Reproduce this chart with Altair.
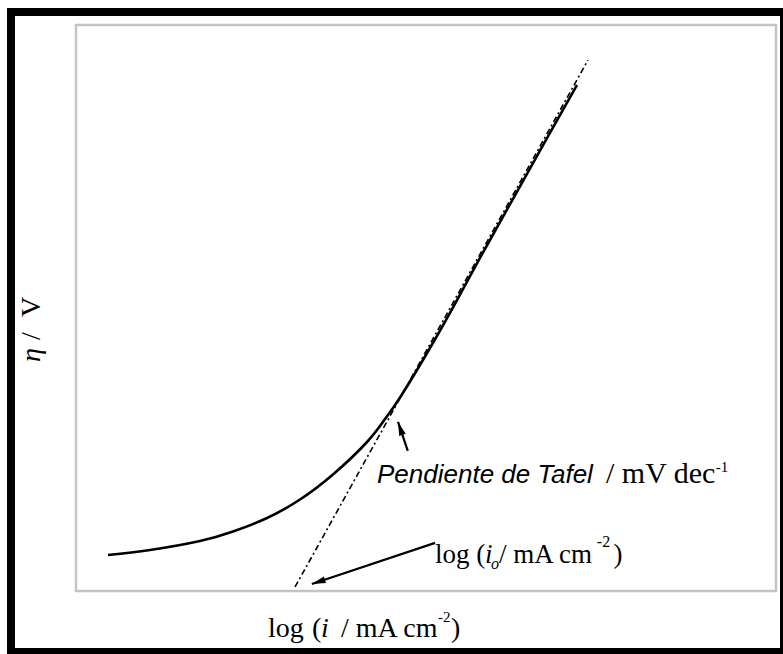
import altair as alt
import pandas as pd

# ---- data (arbitrary units: log i on x, eta on y) ----
curve_x = [0.457, 1.057, 1.771, 2.243, 2.729, 3.200, 3.671, 4.157, 4.414, 4.629,
           5.057, 5.443, 5.771, 6.229, 6.700, 7.157]
curve_y = [0.509, 0.580, 0.707, 0.841, 1.032, 1.293, 1.647, 2.106, 2.430, 2.735,
           3.435, 4.113, 4.707, 5.519, 6.353, 7.152]

tafel_x = [3.129, 7.314]
tafel_y = [0.057, 7.505]

# arrows: tail -> tip
arrow_tail_x = [4.74, 5.13]
arrow_tail_y = [1.98, 0.68]
arrow_tip_x = [4.60, 3.37]
arrow_tip_y = [2.39, 0.10]

X_DOMAIN = [0, 10]
Y_DOMAIN = [0, 8]

xs = alt.Scale(domain=X_DOMAIN, nice=False, zero=False)
ys = alt.Scale(domain=Y_DOMAIN, nice=False, zero=False)

SERIF = "Liberation Serif"
SANS = "Liberation Sans"


def enc(chart, xcol="x", ycol="y", **kw):
    return chart.encode(
        x=alt.X(f"{xcol}:Q", scale=xs, axis=None),
        y=alt.Y(f"{ycol}:Q", scale=ys, axis=None),
        **kw,
    )


curve_df = pd.DataFrame({"x": curve_x, "y": curve_y, "o": list(range(len(curve_x)))})
curve = enc(
    alt.Chart(curve_df).mark_line(color="black", strokeWidth=2.6, interpolate="natural"),
    order="o:Q",
)

tafel_df = pd.DataFrame({"x": tafel_x, "y": tafel_y})
tafel = enc(
    alt.Chart(tafel_df).mark_line(color="black", strokeWidth=1.6, strokeDash=[6, 3, 2, 3])
)

arrows_df = pd.DataFrame({
    "x": arrow_tail_x, "y": arrow_tail_y, "x2": arrow_tip_x, "y2": arrow_tip_y,
})
shafts = alt.Chart(arrows_df).mark_rule(color="black", strokeWidth=2.2).encode(
    x=alt.X("x:Q", scale=xs, axis=None),
    y=alt.Y("y:Q", scale=ys, axis=None),
    x2="x2:Q",
    y2="y2:Q",
)

HEAD = "M0,0L-0.6,2.4L0.6,2.4Z"


def head(i, angle):
    df = pd.DataFrame({"x": [arrow_tip_x[i]], "y": [arrow_tip_y[i]]})
    return enc(
        alt.Chart(df).mark_point(shape=HEAD, filled=True, color="black", opacity=1,
                                 size=130, angle=angle, strokeWidth=0)
    )


def txt(text, x, y, size, font=SERIF, style="normal", angle=0):
    df = pd.DataFrame({"x": [x], "y": [y], "t": [text]})
    kw = dict(font=font, fontSize=size, fontStyle=style, align="left",
              baseline="alphabetic", color="black")
    if angle:
        kw["angle"] = angle
    return enc(alt.Chart(df).mark_text(**kw), text="t:N")


labels = [
    # x-axis title
    txt("log", 2.743, -0.650, 28),
    txt("(", 3.37, -0.650, 28),
    txt("i", 3.50, -0.650, 28, style="italic"),
    txt("/ mA cm", 3.786, -0.650, 28),
    txt("-2", 5.171, -0.438, 15),
    txt(")", 5.357, -0.650, 28),
    # y-axis title
    txt("η", -0.514, 3.237, 28, style="italic", angle=270),
    txt("/", -0.514, 3.548, 28, angle=270),
    txt("V", -0.514, 3.873, 28, angle=270),
    # exchange current label
    txt("log (", 5.129, 0.396, 27),
    txt("i", 5.843, 0.396, 27, style="italic"),
    txt("o", 5.929, 0.311, 16, style="italic"),
    txt("/ mA cm", 6.043, 0.396, 27),
    txt("-2", 7.44, 0.622, 16),
    txt(")", 7.68, 0.396, 27),
    # Tafel slope label
    txt("Pendiente de Tafel", 4.30, 1.526, 26, font=SANS, style="italic"),
    txt("/ mV dec", 7.571, 1.526, 30),
    txt("-1", 9.14, 1.682, 15),
]

frame = alt.Chart(pd.DataFrame({"a": [0]})).mark_rect(
    fill=None, stroke="black", strokeWidth=8
).encode(
    x=alt.value(-65), x2=alt.value(708), y=alt.value(-13), y2=alt.value(627)
)

chart = alt.layer(
    frame, tafel, curve, shafts, head(0, 341), head(1, 252), *labels
).properties(
    width=700,
    height=566,
    padding={"left": 76, "top": 25, "right": 7, "bottom": 63},
    autosize=alt.AutoSizeParams(type="none"),
    background="white",
).configure_view(
    stroke="#c4c4c4", strokeWidth=2.5
)

chart.save("out.html", embed_options={"renderer": "svg", "actions": False})
